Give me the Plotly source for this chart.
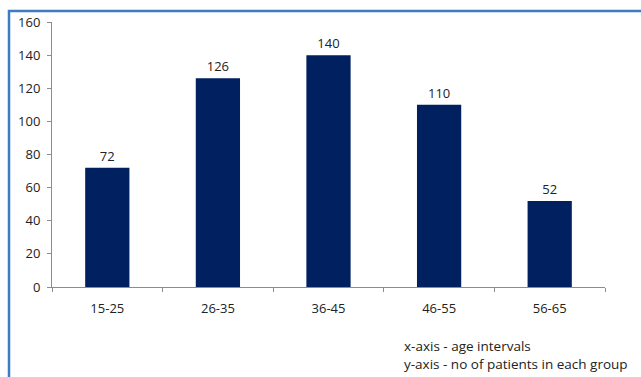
import plotly.graph_objects as go

# Age groups and patient counts
age_groups = ["15-25", "26-35", "36-45", "46-55", "56-65"]
patients = [72, 126, 140, 110, 52]
y_ticks = [0, 20, 40, 60, 80, 100, 120, 140, 160]

W, H = 641, 377
M_L, M_R, M_T, M_B = 52, 36, 22, 90
plot_w = W - M_L - M_R
plot_h = H - M_T - M_B

font_family = "Open Sans, Liberation Sans, sans-serif"

fig = go.Figure(
    go.Bar(
        x=age_groups,
        y=patients,
        marker=dict(color="#002060", line=dict(width=0)),
        width=0.4,
        text=patients,
        textposition="outside",
        textfont=dict(size=13, color="#222222", family=font_family),
        cliponaxis=False,
    )
)

# Blue frame around the chart area (left and top edges visible)
fig.add_shape(
    type="rect",
    xref="paper", yref="paper",
    x0=(9 - M_L) / plot_w, x1=(W + 20 - M_L) / plot_w,
    y0=-(H + 20 - M_T - plot_h) / plot_h, y1=1 + (M_T - 11) / plot_h,
    line=dict(color="#3d7cc2", width=2.5),
    fillcolor="rgba(0,0,0,0)",
    layer="below",
)

# Axis legend note, two lines in one text block
fig.add_annotation(
    xref="paper", yref="paper",
    x=(403 - M_L) / plot_w, y=-(355 - M_T - plot_h) / plot_h,
    xanchor="left", yanchor="middle", align="left",
    text="x-axis - age intervals<br>y-axis - no of patients in each group",
    showarrow=False,
    borderpad=0,
    font=dict(size=13.5, color="#222222", family=font_family),
)

fig.update_layout(
    width=W, height=H,
    margin=dict(l=M_L, r=M_R, t=M_T, b=M_B),
    paper_bgcolor="white",
    plot_bgcolor="white",
    showlegend=False,
    font=dict(family=font_family, size=13, color="#222222"),
    xaxis=dict(
        type="category",
        showline=True, linecolor="#8c8c8c", linewidth=1,
        ticks="outside", tickson="boundaries", ticklen=4, tickcolor="#8c8c8c",
        showgrid=False, zeroline=False,
        ticklabelstandoff=9,
        tickfont=dict(size=13, color="#222222"),
    ),
    yaxis=dict(
        range=[0, 160],
        tickvals=y_ticks,
        showline=True, linecolor="#8c8c8c", linewidth=1,
        ticks="outside", ticklen=4, tickcolor="#8c8c8c",
        showgrid=False, zeroline=False,
        ticklabelstandoff=4,
        tickfont=dict(size=13, color="#222222"),
    ),
)

fig.write_html("out.html")
